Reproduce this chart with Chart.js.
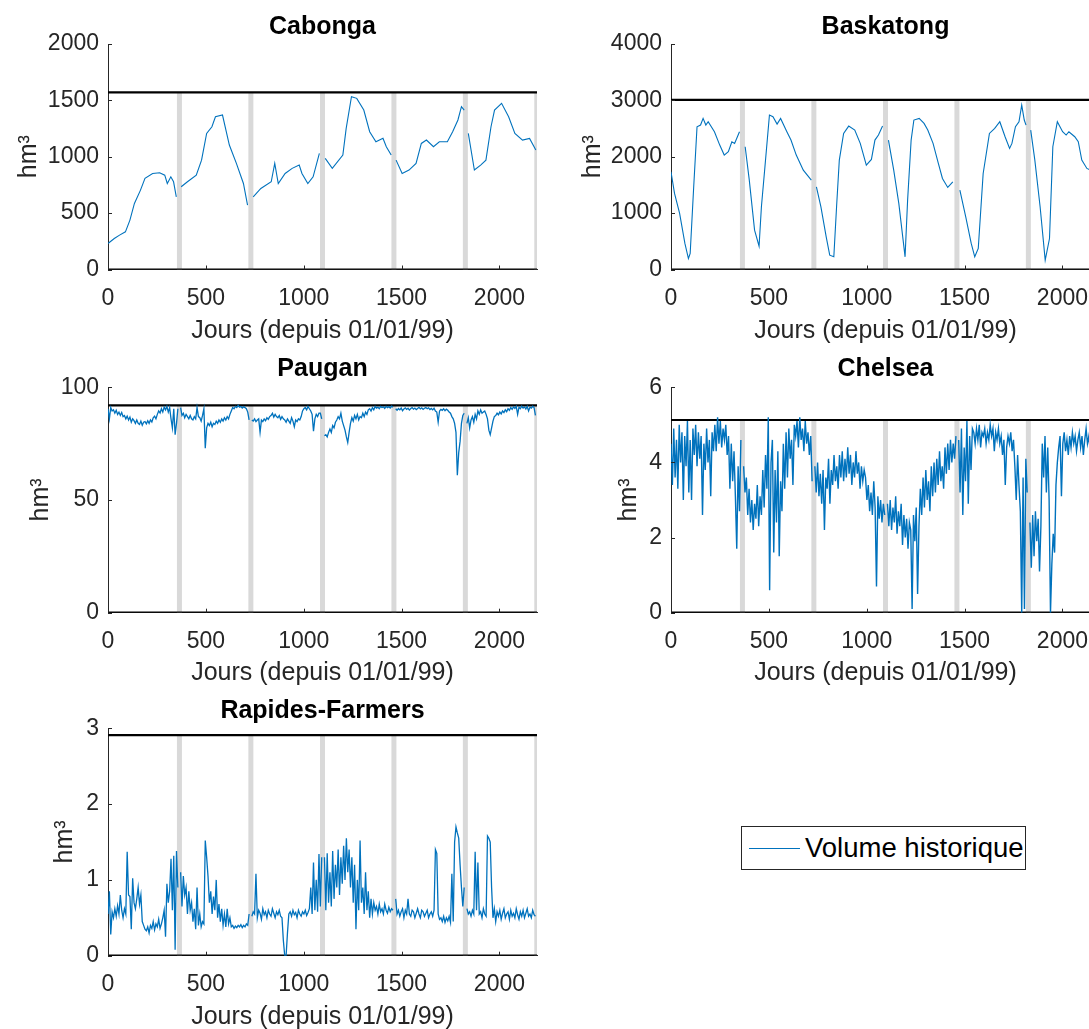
<!DOCTYPE html>
<html>
<head>
<meta charset="utf-8">
<script src="https://cdn.jsdelivr.net/npm/chart.js@4.4.1/dist/chart.umd.min.js"></script>
<style>
    html, body { margin: 0; padding: 0; overflow: hidden; background: #fff; width: 1089px; height: 1029px; }
    canvas { position: absolute; }
    #legend {
        position: absolute; left: 741px; top: 826px; width: 283px; height: 42px;
        border: 1px solid #262626; background: #fff; overflow: hidden;
        font-family: 'Liberation Sans', Arial, sans-serif; font-size: 27.5px; color: #000;
    }
    #legend .sample { position: absolute; left: 7px; top: 21px; width: 51px; height: 0; border-top: 1px solid; }
    #legend .label { position: absolute; left: 63px; top: 4px; white-space: nowrap; line-height: 34px; }
</style>
</head>
<body>
<canvas id="cabonga" width="545" height="345" style="left:0;top:0"></canvas>
<canvas id="baskatong" width="560" height="345" style="left:560px;top:0"></canvas>
<canvas id="paugan" width="545" height="345" style="left:0;top:345px"></canvas>
<canvas id="chelsea" width="560" height="345" style="left:560px;top:345px"></canvas>
<canvas id="rapides" width="545" height="339" style="left:0;top:690px"></canvas>
<div id="legend"><div class="sample"></div><div class="label"></div></div>

<script>
// Volumes historiques des reservoirs (hm3), jours depuis 01/01/99

const VOLUME_COLOR = '#0072BD';
const LEGEND_LABEL = 'Volume historique';
const X_TITLE = 'Jours (depuis 01/01/99)';
const Y_TITLE = 'hm³';

const dayTicks = [0, 500, 1000, 1500, 2000];
const dayMax = 2192;
const yearBreaks = [365, 730, 1096, 1461, 1826, 2191];
const sampleStep = 7; // days between readings for the noisy series

// --- Cabonga (smooth, read at irregular days, null = year break)
const cabongaDays = [0, 32, 59, 89, 112, 135, 166, 189, 228, 264, 290, 303, 321, 335, 349, 365,
    374, 406, 451, 478, 504, 531, 549, 585, 620, 656, 692, 713, 730,
    742, 781, 834, 852, 870, 905, 941, 977, 991, 1021, 1048, 1080, 1096,
    1110, 1146, 1200, 1217, 1244, 1271, 1307, 1337, 1369, 1405, 1422, 1447, 1461,
    1472, 1503, 1538, 1574, 1601, 1627, 1663, 1693, 1734, 1761, 1788, 1806, 1820, 1826,
    1841, 1872, 1904, 1931, 1957, 1975, 2011, 2047, 2079, 2118, 2154, 2186];
const cabongaVol = [231, 275, 305, 334, 438, 586, 704, 808, 852, 858, 837, 763, 822, 778, 645, null,
    734, 778, 837, 970, 1207, 1266, 1355, 1370, 1104, 941, 763, 571, null,
    645, 719, 778, 941, 763, 852, 897, 926, 852, 763, 822, 1030, null,
    985, 897, 1015, 1252, 1533, 1518, 1414, 1222, 1133, 1163, 1089, 1015, null,
    970, 852, 882, 941, 1118, 1148, 1089, 1133, 1133, 1222, 1326, 1444, 1414, null,
    1207, 882, 926, 970, 1266, 1414, 1474, 1355, 1207, 1148, 1163, 1059];
const cabongaMax = 1571;
const cabongaTicks = [0, 500, 1000, 1500, 2000];

// --- Baskatong
const baskatongDays = [0, 18, 44, 71, 89, 98, 116, 133, 151, 164, 178, 190, 222, 249, 272, 293, 311, 325, 350, 365,
    379, 400, 427, 450, 462, 480, 503, 521, 542, 560, 592, 613, 640, 676, 717, 730,
    743, 766, 793, 811, 832, 846, 860, 882, 908, 939, 967, 998, 1024, 1042, 1060, 1081, 1096,
    1111, 1138, 1164, 1186, 1196, 1209, 1227, 1241, 1268, 1293, 1312, 1339, 1366, 1387, 1414, 1440, 1461,
    1476, 1506, 1534, 1552, 1570, 1595, 1627, 1654, 1680, 1707, 1730, 1742, 1760, 1778, 1792, 1805, 1814, 1826,
    1838, 1859, 1886, 1912, 1934, 1951, 1974, 2001, 2019, 2033, 2063, 2081, 2099, 2125, 2150];
const baskatongVol = [1734, 1349, 994, 462, 195, 284, 1467, 2532, 2562, 2680, 2562, 2621, 2444, 2207, 2030, 2089, 2266, 2237, 2444, null,
    2177, 1586, 698, 414, 1112, 1822, 2740, 2710, 2580, 2680, 2444, 2296, 2030, 1763, 1586, null,
    1467, 1112, 580, 254, 225, 1112, 1941, 2414, 2544, 2473, 2237, 1852, 1953, 2296, 2385, 2544, null,
    2296, 1763, 1172, 521, 225, 1231, 2296, 2651, 2680, 2592, 2473, 2237, 1882, 1615, 1456, 1556, null,
    1408, 935, 462, 225, 373, 1704, 2414, 2503, 2621, 2355, 2148, 2237, 2532, 2621, 2917, 2651, 2562, null,
    2473, 1941, 1112, 166, 550, 2177, 2621, 2444, 2385, 2444, 2355, 2266, 1941, 1793, 1750];
const baskatongMax = 3010;
const baskatongTicks = [0, 1000, 2000, 3000, 4000];

// --- Paugan (one reading every sampleStep days, one array per year)
const paugan1 = [90.5, 86.0, 91.0, 89.5, 90.0, 88.5, 89.8, 88.0, 89.0, 87.5, 88.8, 87.0,
    87.5, 86.0, 87.2, 85.5, 86.8, 84.5, 86.0, 85.2, 84.0, 85.5,
    84.0, 83.5, 85.0, 83.2, 84.5, 84.8, 83.8, 85.2, 84.0, 85.5, 84.6, 86.5, 87.2, 86.0,
    88.0, 89.5, 88.6, 90.5, 89.0, 91.2, 90.0, 91.5, 89.0, 91.0,
    86.0, 82.0, 90.5, 79.0, 84.0, 90.5];
const paugan2 = [91.0, 87.5, 88.5, 86.5, 88.0, 87.0, 86.0, 87.5, 86.0, 85.5, 87.0, 86.0, 91.0, 87.0, 86.5, 85.0, 87.5, 90.5,
    73.0, 82.0, 84.0,
    83.0, 84.5, 82.5, 84.0, 83.5, 85.0, 84.0, 85.5, 84.5, 86.0, 85.0, 86.5, 85.5, 87.0, 86.0, 88.0, 89.5,
    91.0, 90.5, 91.5, 91.0, 92.0, 91.2, 91.5, 90.8, 91.4, 91.0, 90.5, 89.0, 85.5];
const paugan3 = [85.5, 85.0, 86.0, 84.8, 85.5, 86.0, 80.0, 85.5, 84.8, 86.0, 85.2, 86.5, 85.8, 87.0,
    87.5, 88.5, 86.8, 88.0, 87.0, 86.5, 87.5, 85.8, 87.0, 86.0,
    85.5, 84.5, 86.0, 85.0, 84.0, 86.5, 85.0, 82.5, 85.5, 84.8, 86.0, 85.5,
    87.0, 89.5, 90.5, 91.0, 90.0, 91.5, 90.5, 89.5, 88.0, 80.5, 86.0, 88.0, 87.0, 88.5, 88.5, 86.0];
const paugan4 = [78.5, 79.0, 78.0, 80.0, 81.5, 80.0, 83.0, 82.0, 84.5, 85.5,
    87.0, 86.0, 88.5, 85.0, 83.0, 81.0, 78.0, 75.5, 80.0, 84.0,
    86.5, 85.0, 87.5, 86.0, 88.0, 85.5, 87.0, 86.5, 88.5, 87.0, 89.0, 88.0, 90.0,
    90.5, 89.5, 91.0, 90.0, 91.5, 90.8, 91.2, 90.5, 91.5, 91.0, 91.3, 90.6, 91.5, 91.0, 91.4, 90.8, 91.6, 91.2];
const paugan5 = [90.5, 89.8, 90.6, 90.0, 90.8, 89.6, 90.4, 90.9, 90.2, 90.7, 89.9, 90.6, 91.0, 90.3, 90.8,
    90.1, 90.6, 91.1, 90.4, 90.9, 90.2, 90.7, 91.0, 90.5, 90.9, 90.1, 90.6, 90.0, 90.7, 89.5,
    89.0, 84.5, 89.5, 90.2, 89.8, 90.5, 89.6, 90.3, 89.8, 89.0,
    88.5, 87.0, 86.0, 84.0, 80.0, 61.0, 71.0, 76.0, 84.0, 87.5, 88.5];
const paugan6 = [84.0, 86.5, 82.0, 85.5, 87.0, 84.5, 88.0, 86.0, 89.5, 88.0, 90.0, 88.5, 89.0,
    89.5, 88.0, 86.0, 81.0, 79.0, 82.0, 85.0, 87.0, 87.5,
    88.5, 87.8, 89.0, 88.2, 89.5, 88.8, 90.0, 89.2, 90.5, 89.8,
    91.0, 90.2, 91.3, 90.6, 91.5, 88.0, 91.2, 90.5, 91.6, 90.8, 91.3, 90.4, 91.5, 89.5, 91.2, 90.8, 91.6, 91.0, 87.5];
const pauganMax = 92;
const pauganTicks = [0, 50, 100];

// --- Chelsea
const chelsea1 = [4.5, 3.4, 4.9, 3.6, 4.6, 3.3, 5.0, 4.0, 4.8, 3.0, 4.7, 3.9, 5.1,
    3.2, 4.6, 3.0, 4.9, 4.2, 5.0, 3.9, 4.8, 4.1, 4.7, 2.6, 4.5, 3.8, 4.9, 4.0, 4.6, 3.1, 4.8, 4.3,
    5.0, 4.3, 5.2, 4.5, 5.1, 4.4, 4.9, 4.6, 5.0, 4.2,
    4.7, 3.3, 4.5, 3.5, 4.3, 3.1, 1.7, 3.9, 2.7, 4.6];
const chelsea2 = [3.9, 3.2, 3.6, 2.6, 3.3, 2.4, 3.0, 2.2, 2.9, 2.5, 3.4, 2.3, 3.1, 2.6, 3.8, 2.8, 4.2, 3.3,
    5.2, 0.6, 4.0,
    4.6, 1.6, 3.8, 2.4, 4.3, 1.5, 3.5, 2.7,
    4.5, 3.3, 4.8, 3.6, 4.9, 4.1, 4.6, 3.4, 5.0,
    4.7, 5.1, 4.4, 5.2, 4.6, 4.9, 4.3, 5.1, 4.5, 4.8, 4.2, 4.7, 3.5];
const chelsea3 = [3.9, 3.2, 4.0, 3.1, 3.7, 2.9, 3.8, 2.2, 3.6, 3.3, 4.1, 2.9, 3.8, 3.4, 4.2, 3.5, 3.9, 3.3, 4.2, 3.6,
    4.3, 3.5, 4.1, 3.6, 4.4, 3.7, 4.2, 3.4, 4.0, 3.6, 4.3, 3.7, 4.0, 3.3, 3.9, 3.5, 3.8,
    3.6, 3.0, 3.4, 2.7, 3.2, 2.6, 3.5, 2.8, 0.7, 3.1, 2.5, 3.0, 2.4, 2.9, 2.6];
const chelsea4 = [2.9, 2.3, 3.0, 2.2, 2.8, 2.4, 3.1, 2.1, 2.7, 2.3, 2.9, 1.8, 2.6, 2.0, 2.5, 1.7, 2.4,
    2.2, 0.1, 2.6, 1.9, 2.8, 0.5, 2.3,
    3.3, 2.6, 3.6, 2.8, 3.8, 3.0, 3.5, 2.7, 3.9, 3.1,
    4.0, 3.2, 4.1, 3.4, 4.3, 3.5, 3.9, 3.3, 4.4, 3.7, 4.5, 3.8, 4.6, 4.0, 4.5, 4.1, 4.7];
const chelsea5 = [4.6, 3.2, 4.9, 2.6, 4.4, 3.5, 5.1, 2.9, 4.7, 3.8, 4.9,
    4.8, 4.5, 4.9, 4.6, 5.0, 4.4, 4.8, 4.7, 4.9, 4.5, 4.8, 4.6, 5.0, 4.7, 4.9,
    4.3, 4.8, 4.6, 4.9, 4.5, 4.7, 4.2, 4.6, 3.4, 4.4, 4.7, 4.5, 4.8, 4.3, 4.6,
    3.9, 3.0, 4.2, 3.4, 2.7, 0.0, 3.6, 0.1, 4.1, 3.2];
const chelsea6 = [2.4, 1.2, 2.6, 1.5, 2.7, 1.9, 2.5, 1.1, 2.3,
    4.5, 3.6, 4.7, 3.2, 4.4, 3.0, 0.0,
    1.3, 2.1, 1.6, 3.4, 4.0,
    4.4, 4.7, 3.1, 4.5, 4.8, 4.3, 4.6, 4.2, 4.7, 4.4, 4.8, 4.5, 4.7, 4.3, 4.6,
    4.8, 4.4, 4.7, 4.2, 4.6, 4.9, 4.5, 4.7, 4.3, 4.8, 4.6, 4.4, 4.9, 4.5, 4.3];
const chelseaMax = 5.13;
const chelseaTicks = [0, 2, 4, 6];

// --- Rapides-Farmers
const rapides1 = [0.55, 0.85, 0.28, 0.58, 0.5,
    0.62, 0.52, 0.66, 0.55, 0.8, 0.6, 0.5, 0.62, 0.55,
    1.37,
    0.8, 0.78, 0.35, 1.02, 0.7, 0.62, 0.75, 0.9, 0.68, 0.8,
    0.45, 0.4, 0.35, 0.33, 0.38, 0.3, 0.4, 0.36, 0.45, 0.34, 0.42, 0.38, 0.48, 0.36, 0.42, 0.5,
    0.6, 0.25, 0.95, 0.7, 0.85,
    1.28, 0.6, 1.32, 0.08, 1.38, 0.9];
const rapides2 = [1.1, 0.65, 1.05, 0.8, 0.9, 0.55, 0.85, 0.6,
    0.7, 0.45, 0.62, 0.35, 0.9, 0.4, 0.55, 0.38, 0.45,
    0.42, 1.52, 1.3, 1.05,
    0.7, 0.85, 0.55, 0.78, 0.6, 1.0, 0.5, 0.68, 0.45, 0.62, 0.4, 0.55, 0.38, 0.62, 0.42, 0.5,
    0.38, 0.4, 0.36, 0.39, 0.37, 0.4, 0.38, 0.41, 0.37, 0.4, 0.38, 0.42, 0.4, 0.55];
const rapides3 = [0.52, 0.58, 0.55, 1.08, 0.5, 0.6, 0.56, 0.48, 0.62, 0.54, 0.58, 0.5, 0.6, 0.55, 0.52, 0.62, 0.56, 0.5, 0.58, 0.54, 0.6, 0.52,
    0.5, 0.2, 0.0, 0.0,
    0.3, 0.55, 0.58, 0.52, 0.6, 0.54, 0.57, 0.5, 0.6, 0.55, 0.52, 0.58, 0.55, 0.6, 0.53, 0.57, 0.62,
    0.9, 0.55, 1.23, 0.6, 1.0, 0.58, 1.34, 0.65, 1.3];
const rapides4 = [1.3, 0.6, 1.35, 0.7, 1.1, 0.65, 1.38, 0.75, 1.2, 0.9, 1.4, 0.8, 1.3,
    0.95, 1.45, 1.0, 1.55, 1.1, 1.4, 0.9, 1.3,
    0.7, 1.2, 0.35, 1.0, 0.6, 1.52, 0.7, 0.9, 0.55, 1.1, 0.6, 0.85,
    0.5, 0.75, 0.55, 0.7, 0.6, 0.65, 0.55, 0.68, 0.58, 0.62, 0.55, 0.68, 0.6, 0.56, 0.64, 0.58, 0.62, 0.6];
const rapides5 = [0.75, 0.55, 0.6, 0.52, 0.58, 0.62, 0.5, 0.6, 0.55, 0.75, 0.55, 0.52, 0.6, 0.58, 0.5,
    0.56, 0.62, 0.55, 0.5, 0.6, 0.58, 0.52, 0.56, 0.6, 0.5, 0.55, 0.58, 0.52, 0.6,
    1.4, 1.35, 0.55,
    0.48, 0.5, 0.45, 0.52, 0.44, 0.5, 0.46, 0.52, 0.44, 1.08,
    0.45, 1.5, 1.7, 1.62, 1.55, 1.2, 0.9, 0.65, 0.9];
const rapides6 = [0.62, 0.55, 0.58, 0.52, 0.6, 0.55,
    1.37, 0.6, 1.23, 0.55,
    0.58, 0.5, 0.62, 0.55, 0.52, 1.58,
    1.55, 1.5, 0.9,
    0.5, 0.62, 0.45, 0.58, 0.52, 0.6, 0.48, 0.56, 0.62, 0.5, 0.55, 0.58, 0.48, 0.6, 0.52, 0.56, 0.5,
    0.62, 0.54, 0.48, 0.58, 0.52, 0.6, 0.5, 0.56, 0.62, 0.52, 0.55, 0.5, 0.6, 0.54, 0.52];
const rapidesMax = 2.91;
const rapidesTicks = [0, 1, 2, 3];

const FONT = "'Liberation Sans', Arial, Helvetica, sans-serif";
const AXIS_COLOR = '#262626';

// join yearly arrays with a null between years so the line breaks
function joinYears(...years) {
    return years.reduce((all, y, i) => i === 0 ? y.slice() : all.concat([null], y), []);
}

function pointsFromDays(days, vals) {
    return days.map((d, i) => ({ x: d, y: vals[i] }));
}

function pointsFromSamples(vals) {
    return vals.map((v, i) => ({ x: i * sampleStep, y: v }));
}

// MATLAB style: ticks pointing into the axes
const inwardTicks = {
    id: 'inwardTicks',
    afterDraw(chart) {
        const { ctx, chartArea: a, scales: { x, y } } = chart;
        ctx.save();
        ctx.strokeStyle = AXIS_COLOR;
        ctx.lineWidth = 1;
        ctx.beginPath();
        x.ticks.forEach(t => {
            const px = Math.round(x.getPixelForValue(t.value)) + 0.5;
            ctx.moveTo(px, a.bottom);
            ctx.lineTo(px, a.bottom - 4);
        });
        y.ticks.forEach(t => {
            const py = Math.round(y.getPixelForValue(t.value)) + 0.5;
            ctx.moveTo(a.left, py);
            ctx.lineTo(a.left + 4, py);
        });
        ctx.stroke();
        ctx.restore();
    }
};

function makePanel(id, p) {
    const ctx = document.getElementById(id);
    const yMax = p.yTicks[p.yTicks.length - 1];
    const bars = yearBreaks.flatMap(d => [{ x: d, y: 0 }, { x: d, y: p.maxLevel }, { x: d, y: null }]);

    return new Chart(ctx, {
        type: 'line',
        data: {
            datasets: [
                { label: LEGEND_LABEL, data: p.points, borderColor: VOLUME_COLOR, borderWidth: p.lineWidth, pointRadius: 0, tension: 0 },
                { data: [{ x: 0, y: p.maxLevel }, { x: dayMax, y: p.maxLevel }], borderColor: '#000', borderWidth: 2.2, pointRadius: 0 },
                { data: [{ x: 0, y: 0 }, { x: dayMax, y: 0 }], borderColor: '#000', borderWidth: 2.2, pointRadius: 0 },
                { data: bars, borderColor: '#d9d9d9', borderWidth: 5, pointRadius: 0, borderCapStyle: 'butt' }
            ]
        },
        options: {
            responsive: false,
            animation: false,
            events: [],
            layout: { padding: { left: 0, right: p.padRight, top: 0, bottom: 0 } },
            plugins: {
                legend: { display: false },
                tooltip: { enabled: false },
                title: {
                    display: true,
                    text: p.title,
                    color: '#000',
                    fullSize: false,
                    font: { family: FONT, size: 25, weight: 'bold' },
                    padding: { top: p.titleTop, bottom: p.titleBottom }
                }
            },
            scales: {
                x: {
                    type: 'linear',
                    min: 0,
                    max: dayMax,
                    afterBuildTicks: s => { s.ticks = dayTicks.map(v => ({ value: v })); },
                    afterFit: s => { s.height = p.xHeight; },
                    grid: { display: false, drawTicks: false, tickLength: 0 },
                    border: { display: true, color: AXIS_COLOR, width: 1 },
                    ticks: { color: AXIS_COLOR, font: { family: FONT, size: 23 }, padding: 15, maxRotation: 0, autoSkip: false, callback: v => String(v) },
                    title: { display: true, text: X_TITLE, color: AXIS_COLOR, font: { family: FONT, size: 25 }, padding: { top: 0, bottom: p.xTitleBottom } }
                },
                y: {
                    min: 0,
                    max: yMax,
                    afterBuildTicks: s => { s.ticks = p.yTicks.map(v => ({ value: v })); },
                    afterFit: s => { s.width = p.yWidth; },
                    grid: { display: false, drawTicks: false, tickLength: 0 },
                    border: { display: true, color: AXIS_COLOR, width: 1 },
                    ticks: { color: AXIS_COLOR, font: { family: FONT, size: 23 }, padding: 9, callback: v => String(v) },
                    title: { display: true, text: Y_TITLE, color: AXIS_COLOR, font: { family: FONT, size: 25 }, padding: { top: p.yTitleTop, bottom: 0 } }
                }
            }
        },
        plugins: [inwardTicks]
    });
}

const topRow = { titleTop: 12, titleBottom: 2, xHeight: 75.5, xTitleBottom: -1.5 };
const midRow = { titleTop: 9, titleBottom: 3.3, xHeight: 77.3, xTitleBottom: 2 };
const lowRow = { titleTop: 6, titleBottom: 2.3, xHeight: 73.3, xTitleBottom: -3 };
const leftCol = { yWidth: 108, padRight: 8 };
const rightCol = { yWidth: 111, padRight: 20 };

makePanel('cabonga', { ...topRow, ...leftCol, title: 'Cabonga', yTitleTop: 14, lineWidth: 1.1,
    points: pointsFromDays(cabongaDays, cabongaVol), maxLevel: cabongaMax, yTicks: cabongaTicks });
makePanel('baskatong', { ...topRow, ...rightCol, title: 'Baskatong', yTitleTop: 18, lineWidth: 1.1,
    points: pointsFromDays(baskatongDays, baskatongVol), maxLevel: baskatongMax, yTicks: baskatongTicks });
makePanel('paugan', { ...midRow, ...leftCol, title: 'Paugan', yTitleTop: 26, lineWidth: 1.3,
    points: pointsFromSamples(joinYears(paugan1, paugan2, paugan3, paugan4, paugan5, paugan6)), maxLevel: pauganMax, yTicks: pauganTicks });
makePanel('chelsea', { ...midRow, ...rightCol, title: 'Chelsea', yTitleTop: 54, lineWidth: 1.4,
    points: pointsFromSamples(joinYears(chelsea1, chelsea2, chelsea3, chelsea4, chelsea5, chelsea6)), maxLevel: chelseaMax, yTicks: chelseaTicks });
makePanel('rapides', { ...lowRow, ...leftCol, title: 'Rapides-Farmers', yTitleTop: 50, lineWidth: 1.3,
    points: pointsFromSamples(joinYears(rapides1, rapides2, rapides3, rapides4, rapides5, rapides6)), maxLevel: rapidesMax, yTicks: rapidesTicks });

// legend box (separate, like the original figure)
const legend = document.getElementById('legend');
legend.querySelector('.sample').style.borderColor = VOLUME_COLOR;
legend.querySelector('.label').textContent = LEGEND_LABEL;
</script>
</body>
</html>
